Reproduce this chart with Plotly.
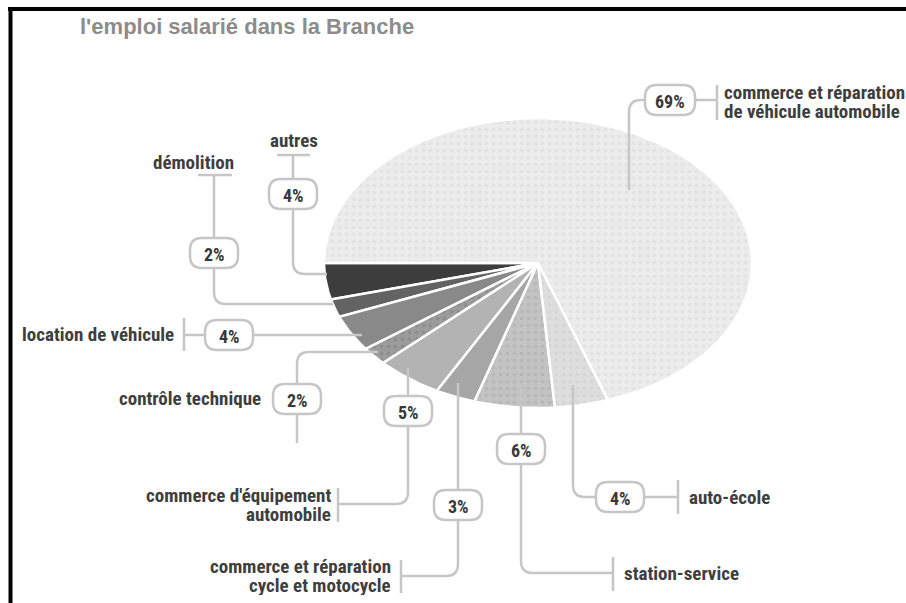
import numpy as np
import plotly.graph_objects as go

# ---- data -------------------------------------------------------------
categories = [
    "autres",
    "démolition",
    "location de véhicule",
    "contrôle technique",
    "commerce d'équipement<br>automobile",
    "commerce et réparation<br>cycle et motocycle",
    "station-service",
    "auto-école",
    "commerce et réparation<br>de véhicule automobile",
]
shares = [4, 2, 4, 2, 5, 3, 6, 4, 69]
pct_labels = ["4%", "2%", "4%", "2%", "5%", "3%", "6%", "4%", "69%"]

# ---- styling ----------------------------------------------------------
W, H = 906, 603
CX, CY, RX, RY = 538, 263, 214, 145          # flattened pie (pixel units)
NARROW = "Roboto Condensed, Liberation Sans Narrow, Arial Narrow, sans-serif"
WIDE = "Liberation Sans, Arial, DejaVu Sans, sans-serif"
LINE = "#c6c6c6"
TXT = "#3e3e3e"
LINE_GAP = 19                                 # spacing of two-line labels

slice_style = [
    dict(color="#3d3d3d", dots=None),
    dict(color="#636363", dots=None),
    dict(color="#898989", dots=None),
    dict(color="#9c9c9c", dots="#808080"),
    dict(color="#b3b3b3", dots=None),
    dict(color="#a6a6a6", dots=None),
    dict(color="#c3c3c3", dots="#adadad"),
    dict(color="#dedede", dots="#cdcdcd"),
    dict(color="#ececec", dots="#dadada"),
]

fig = go.Figure()

# wedges: start pointing left and sweep downward, proportional to the shares
total = float(sum(shares))
start = np.pi
for val, st in zip(shares, slice_style):
    sweep = 2 * np.pi * val / total
    phi = np.linspace(start, start + sweep, max(8, int(val * 6)))
    xs = np.concatenate([[CX], CX + RX * np.cos(phi), [CX]])
    ys = np.concatenate([[CY], CY - RY * np.sin(phi), [CY]])
    kw = {}
    if st["dots"]:
        kw["fillpattern"] = dict(shape=".", bgcolor=st["color"], fgcolor=st["dots"],
                                 size=7, solidity=0.25)
    fig.add_trace(go.Scatter(
        x=xs, y=ys, mode="lines", fill="toself", fillcolor=st["color"],
        line=dict(color="white", width=2.5), hoverinfo="skip", showlegend=False, **kw))
    start += sweep


def pill(cx, cy, w=48, h=30, r=12):
    x0, x1, y0, y1 = cx - w / 2, cx + w / 2, cy - h / 2, cy + h / 2
    return (f"M {x0+r},{y0} L {x1-r},{y0} Q {x1},{y0} {x1},{y0+r} L {x1},{y1-r} "
            f"Q {x1},{y1} {x1-r},{y1} L {x0+r},{y1} Q {x0},{y1} {x0},{y1-r} "
            f"L {x0},{y0+r} Q {x0},{y0} {x0+r},{y0} Z")


# callout layout per category: leader paths, pill centre/width, label placement
callouts = [
    dict(paths=["M 277,155 L 310,155", "M 293,155 L 293,179",
                "M 293,209 L 293,262 Q 293,274 305,274 L 327,274"],
         pill=(293, 194, 48), label=(294, 140, "center")),
    dict(paths=["M 198,175 L 232,175", "M 214,175 L 214,238",
                "M 214,268 L 214,292 Q 214,304 226,304 L 333,304"],
         pill=(214, 253, 48), label=(193, 162, "center")),
    dict(paths=["M 184,318 L 184,351", "M 184,335 L 205,335", "M 253,335 L 362,335"],
         pill=(229, 335, 48), label=(175, 334, "right")),
    dict(paths=["M 378,352 L 309,352 Q 297,352 297,364 L 297,384", "M 297,414 L 297,443"],
         pill=(297, 399, 48), label=(262, 398, "right")),
    dict(paths=["M 408,368 L 408,396",
                "M 408,426 L 408,492 Q 408,504 396,504 L 338,504", "M 338,488 L 338,522"],
         pill=(408, 411, 48), label=(332, 505, "right")),
    dict(paths=["M 458,383 L 458,490",
                "M 458,520 L 458,564 Q 458,576 446,576 L 401,576", "M 401,560 L 401,593"],
         pill=(458, 505, 48), label=(392, 576, "right")),
    dict(paths=["M 521,385 L 521,434",
                "M 521,464 L 521,561 Q 521,573 533,573 L 613,573", "M 613,557 L 613,591"],
         pill=(521, 449, 48), label=(623, 573, "left")),
    dict(paths=["M 573,385 L 573,485 Q 573,497 585,497 L 596,497",
                "M 644,497 L 678,497", "M 678,480 L 678,514"],
         pill=(620, 497, 48), label=(688, 497, "left")),
    dict(paths=["M 629,190 L 629,112 Q 629,100 641,100 L 645,100",
                "M 695,100 L 717,100", "M 717,85 L 717,120"],
         pill=(670, 100, 50), label=(723, 102, "left")),
]

shapes = []
annotations = []
for cat, pct, co in zip(categories, pct_labels, callouts):
    for p in co["paths"]:
        shapes.append(dict(type="path", path=p, xref="x", yref="y",
                           line=dict(color=LINE, width=2.5)))
    px, py, pw = co["pill"]
    shapes.append(dict(type="path", path=pill(px, py, pw), xref="x", yref="y",
                       fillcolor="white", line=dict(color=LINE, width=2.5)))
    annotations.append(dict(x=px, y=py + 1, text=pct, showarrow=False, xref="x", yref="y",
                            xanchor="center", yanchor="middle",
                            font=dict(family=NARROW, size=18, color="#383838", weight=700)))
    lx, ly, anc = co["label"]
    lines = cat.split("<br>")
    y0 = ly - LINE_GAP * (len(lines) - 1) / 2
    for i, txt in enumerate(lines):
        annotations.append(dict(x=lx, y=y0 + i * LINE_GAP, text=txt, showarrow=False,
                                xref="x", yref="y", xanchor=anc, yanchor="middle",
                                height=LINE_GAP, borderpad=0,
                                font=dict(family=NARROW, size=19, color=TXT, weight=700)))

# title
annotations.append(dict(x=78, y=26, text="l'emploi salarié dans la Branche", showarrow=False,
                        xref="x", yref="y", xanchor="left", yanchor="middle",
                        font=dict(family=WIDE, size=22, color="#8c8c8c", weight=700)))

# black frame along the top and left edges
shapes.append(dict(type="line", x0=8, x1=W, y0=9, y1=9, xref="x", yref="y",
                   line=dict(color="black", width=4)))
shapes.append(dict(type="line", x0=10.5, x1=10.5, y0=7, y1=H, xref="x", yref="y",
                   line=dict(color="black", width=4)))

fig.update_layout(
    width=W, height=H, margin=dict(l=0, r=0, t=0, b=0),
    paper_bgcolor="white", plot_bgcolor="white",
    xaxis=dict(range=[0, W], visible=False, fixedrange=True),
    yaxis=dict(range=[H, 0], visible=False, fixedrange=True),
    shapes=shapes, annotations=annotations, showlegend=False,
)

fig.write_html("out.html")
